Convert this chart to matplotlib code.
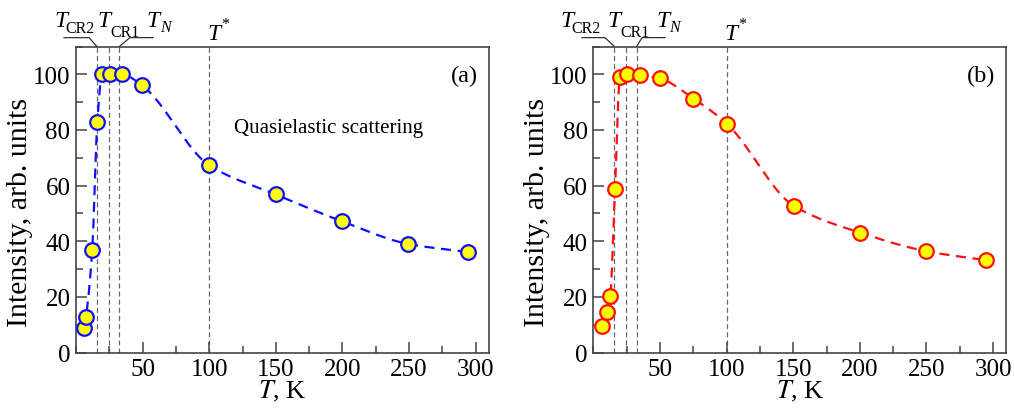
import numpy as np
import matplotlib
matplotlib.use("Agg")
import matplotlib.pyplot as plt
import matplotlib.transforms as mtransforms
from matplotlib.ticker import MultipleLocator

plt.rcParams['font.family'] = ['Liberation Serif', 'DejaVu Serif']
plt.rcParams['mathtext.fontset'] = 'stix'

# ---- data ----
T_a = [6.2, 7.5, 12.2, 16.0, 19.7, 25.5, 34.5, 49.5, 100, 150, 200, 249.5, 294.6]
I_a = [8.8, 12.8, 37.0, 82.9, 100.0, 100.0, 100.0, 96.0, 67.3, 56.8, 47.1, 39.0, 36.1]

T_b = [6.7, 10.4, 12.7, 16.2, 20.0, 25.2, 35.0, 50.0, 75.0, 100, 150.2, 200, 250, 294.4]
I_b = [9.4, 14.4, 20.4, 58.6, 99.2, 100.0, 99.7, 98.5, 91.3, 82.3, 52.8, 43.1, 36.4, 33.2]

T_lines = [15.7, 24.7, 32.5, 100]   # T_CR2, T_CR1, T_N, T*
x_ticks = [50, 100, 150, 200, 250, 300]
y_ticks = [0, 20, 40, 60, 80, 100]


def pchip(x, y, xs):
    x = np.asarray(x, float); y = np.asarray(y, float)
    h = np.diff(x); d = np.diff(y) / h
    n = len(x)
    m = np.zeros(n)
    for k in range(1, n - 1):
        if d[k - 1] * d[k] <= 0:
            m[k] = 0.0
        else:
            w1 = 2 * h[k] + h[k - 1]
            w2 = h[k] + 2 * h[k - 1]
            m[k] = (w1 + w2) / (w1 / d[k - 1] + w2 / d[k])
    m[0] = d[0]; m[-1] = d[-1]
    idx = np.clip(np.searchsorted(x, xs) - 1, 0, n - 2)
    t = (xs - x[idx]) / h[idx]
    h00 = 2 * t**3 - 3 * t**2 + 1
    h10 = t**3 - 2 * t**2 + t
    h01 = -2 * t**3 + 3 * t**2
    h11 = t**3 - t**2
    return (h00 * y[idx] + h10 * h[idx] * m[idx] + h01 * y[idx + 1]
            + h11 * h[idx] * m[idx + 1])


fig = plt.figure(figsize=(10.14, 4.10), dpi=100)
W, H = 1014, 410
ax1 = fig.add_axes([76 / W, (H - 353.5) / H, 413 / W, 306 / H])
ax2 = fig.add_axes([593.4 / W, (H - 353.5) / H, 413 / W, 306 / H])

spine_col = '#444444'
fs = 18
fs_ylab = 21.5
fs_xlab = 19
fs_T = 17
fs_sub = 11.5

# label placement: (T x, sub x, T baseline, sub baseline) in data-x / axes-y
panels = [
    (ax1, T_a, I_a, '#1010ff', '(a)', -0.103,
     dict(CR2=(-16.5, -7.8, 1.066, 1.046), CR1=(15.8, 26.0, 1.066, 1.034),
          N=(53.0, 63.5, 1.066, 1.050), star=(98.3, 108.8, 1.023, 1.062),
          l2=(-9, 9.8, 15.7), ln=(57.8, 40.5, 32.5))),
    (ax2, T_b, I_b, '#ff1010', '(b)', -0.105,
     dict(CR2=(-25.0, -16.3, 1.066, 1.046), CR1=(10.2, 20.0, 1.066, 1.034),
          N=(47.0, 57.0, 1.066, 1.050), star=(98.7, 109.0, 1.023, 1.062),
          l2=(-8.6, 8.7, 15.7), ln=(53.7, 36.5, 32.5))),
]

for ax, T, I, col, lab, ylx, pos in panels:
    ax.set_xlim(0, 310)
    ax.set_ylim(0, 110)
    for tl in T_lines:
        ax.axvline(tl, color='#666666', lw=0.9, ls=(0, (4, 2.5)), zorder=1)
    xs = np.linspace(min(T), max(T), 800)
    ax.plot(xs, pchip(T, I, xs), color=col, lw=1.6, ls=(0, (4.5, 3)), zorder=2)
    ax.plot(T, I, 'o', ms=10.5, mfc='#ffff00', mec=col, mew=1.6, zorder=3,
            clip_on=False)

    ax.set_xticks(x_ticks)
    ax.set_yticks(y_ticks)
    ax.xaxis.set_minor_locator(MultipleLocator(25))
    ax.yaxis.set_minor_locator(MultipleLocator(10))
    ax.tick_params(which='both', direction='in', top=False, right=False,
                   color=spine_col, width=1.1, labelsize=fs)
    ax.tick_params(which='major', length=8)
    ax.tick_params(axis='y', which='major', pad=4)
    ax.tick_params(axis='x', which='major', pad=4)
    ax.tick_params(which='minor', length=5)
    for s in ax.spines.values():
        s.set_color(spine_col)
        s.set_linewidth(1.2)

    ax.set_xlabel(r'$T$, K', fontsize=fs_xlab)
    ax.xaxis.set_label_coords(0.5, -0.083)
    ax.set_ylabel('Intensity, arb. units', fontsize=fs_ylab)
    ax.yaxis.set_label_coords(ylx, 0.46)
    ax.text(0.973, 0.905, lab, transform=ax.transAxes, fontsize=17.5,
            ha='right', va='center')

    trans = mtransforms.blended_transform_factory(ax.transData, ax.transAxes)
    for key in ['CR2', 'CR1', 'N']:
        tx, sx, ty, sy = pos[key]
        ax.text(tx, ty, 'T', transform=trans, fontsize=fs_T, style='italic',
                ha='left', va='baseline', clip_on=False)
        ax.text(sx, sy, key, transform=trans, fontsize=fs_sub,
                style='italic' if key == 'N' else 'normal',
                ha='left', va='baseline', clip_on=False)
    tx, sx, ty, sy = pos['star']
    ax.text(tx, ty, 'T', transform=trans, fontsize=fs_T, style='italic',
            ha='left', va='baseline', clip_on=False)
    ax.text(sx, sy, '*', transform=trans, fontsize=fs_sub,
            ha='left', va='baseline', clip_on=False)

    a, b, c = pos['l2']
    ax.plot([a, b, c], [1.029, 1.029, 1.0], color='#333333', lw=0.9,
            transform=trans, clip_on=False)
    a, b, c = pos['ln']
    ax.plot([a, b, c], [1.029, 1.029, 1.0], color='#333333', lw=0.9,
            transform=trans, clip_on=False)

ax1.text(0.382, 0.735, 'Quasielastic scattering', transform=ax1.transAxes,
         fontsize=15, ha='left', va='center')

fig.savefig('out.png', dpi=100)
